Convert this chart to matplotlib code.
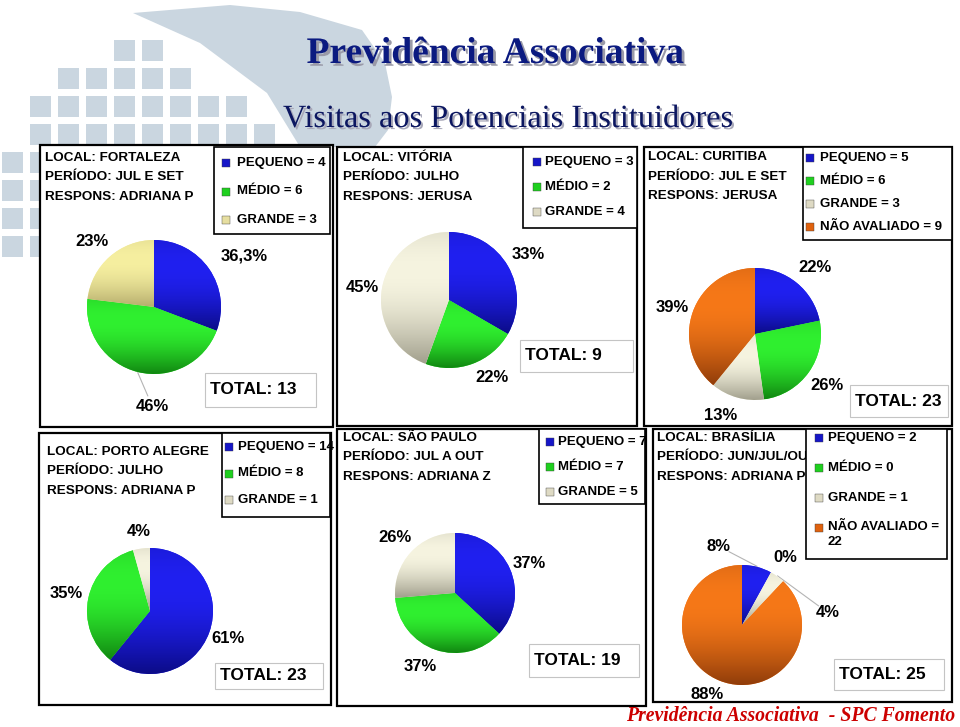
import numpy as np
import matplotlib
matplotlib.use("Agg")
import matplotlib.pyplot as plt
import matplotlib.patheffects as pe
from matplotlib.patches import Rectangle, Polygon
from matplotlib.colors import to_rgb

# ---------------- data ----------------
locais = ["FORTALEZA", "VITÓRIA", "CURITIBA", "PORTO ALEGRE", "SÃO PAULO", "BRASÍLIA"]
periodos = ["JUL E SET", "JULHO", "JUL E SET", "JULHO", "JUL A OUT", "JUN/JUL/OUT"]
responsaveis = ["ADRIANA P", "JERUSA", "JERUSA", "ADRIANA P", "ADRIANA Z", "ADRIANA P"]
pequeno = [4, 3, 5, 14, 7, 2]
medio = [6, 2, 6, 8, 7, 0]
grande = [3, 4, 3, 1, 5, 1]
nao_avaliado = [None, None, 9, None, None, 22]
pct_labels = [
    ["36,3%", "46%", "23%"],
    ["33%", "22%", "45%"],
    ["22%", "26%", "13%", "39%"],
    ["61%", "35%", "4%"],
    ["37%", "37%", "26%"],
    ["8%", "0%", "4%", "88%"],
]
cat_names = ["PEQUENO", "MÉDIO", "GRANDE", "NÃO AVALIADO"]

title = "Previdência Associativa"
subtitle = "Visitas aos Potenciais Instituidores"
footer = "Previdência Associativa  - SPC Fomento"

# ---------------- layout (pixels) ----------------
W, H = 960, 727
SANS = ["Liberation Sans", "DejaVu Sans"]
SERIF = ["Liberation Serif", "DejaVu Serif"]

panel_box = [(40, 145, 333, 427), (337, 147, 637, 426), (644, 147, 952, 426),
             (39, 433, 331, 705), (337, 429, 646, 706), (653, 429, 952, 702)]
info_xy = [(45, 158), (343, 158), (648, 157), (47, 452), (343, 438), (657, 438)]
legend_box = [(214, 147, 330, 234), (523, 147, 637, 228), (803, 147, 952, 240),
              (222, 433, 330, 517), (539, 429, 645, 504), (806, 429, 947, 559)]
legend_mark_x = [226, 537, 810, 229, 550, 819]
legend_text_x = [237, 545, 820, 238, 558, 828]
legend_y0 = [163, 162, 158, 447, 442, 438]
legend_dy = [28.5, 25, 23, 26.5, 25, 30]
legend_wrap = [False, False, False, False, False, True]
total_box = [(205, 373, 316, 407), (520, 340, 633, 372), (850, 385, 948, 417),
             (215, 663, 323, 689), (529, 644, 639, 677), (834, 659, 944, 690)]
pie_geom = [(154, 307, 67), (449, 300, 68), (755, 334, 66),
            (150, 611, 63), (455, 593, 60), (742, 625, 60)]
lab_dist = [[1.54, 1.49, 1.34], [1.34, 1.31, 1.29], [1.35, 1.34, 1.34, 1.32],
            [1.31, 1.35, 1.27], [1.33, 1.36, 1.36], [1.37, 1.34, 1.45, 1.30]]
lab_dang = [[-5, 13, 2], [0, 9, 1.5], [-3, 0, -7, 2],
            [0, 0, 0], [-2, -6, 0], [31, -3.5, -46, -5]]
lab_leader = [[False, True, False], [False] * 3, [False] * 4,
              [False] * 3, [False] * 3, [True, False, True, False]]

# colours (bright, dark) per category
blue = (to_rgb("#2020f0"), to_rgb("#06066a"))
green = (to_rgb("#30f030"), to_rgb("#086a08"))
yellow = (to_rgb("#f6efa0"), to_rgb("#a49c60"))
cream = (to_rgb("#f6f4e0"), to_rgb("#8a8876"))
orange = (to_rgb("#f67818"), to_rgb("#742c06"))
legend_col = {"blue": "#1616c8", "green": "#1fd01f", "yellow": "#e6dea0",
              "cream": "#dedac4", "orange": "#e0620e"}

# ---------------- figure ----------------
fig = plt.figure(figsize=(W / 100, H / 100), dpi=100)
bg = fig.add_axes([0, 0, 1, 1])
bg.set_xlim(0, W)
bg.set_ylim(H, 0)
bg.axis("off")

# watermark (globe logo, faint)
wm = "#cad6e0"
crescent = [(133, 13), (230, 5), (300, 12), (362, 30), (385, 63), (392, 97),
            (388, 130), (375, 147), (300, 147), (267, 93), (200, 43)]
bg.add_patch(Polygon(crescent, closed=True, facecolor=wm, edgecolor="none", zorder=0))
for i in range(12):
    for j in range(8):
        x0, y0 = 2 + 28 * i, 40 + 28 * j
        cxs, cys = x0 + 10, y0 + 10
        inside = (cxs - 195) ** 2 + (cys - 230) ** 2 < 200 ** 2
        left_of_swoosh = cxs < 133 + (cys - 13) * (167 / 134) - 12
        if inside and left_of_swoosh:
            bg.add_patch(Rectangle((x0, y0), 21, 21, facecolor=wm, edgecolor="none", zorder=0))

# titles with shadow
bg.text(495, 63, title, fontsize=27, fontweight="bold", family=SERIF, color="#0b1a80",
        ha="center", va="baseline", zorder=4,
        path_effects=[pe.SimplePatchShadow(offset=(2, -2), shadow_rgbFace="#9a9aa8", alpha=1.0),
                      pe.Normal()])
bg.text(508, 127, subtitle, fontsize=23.3, family=SERIF, color="#0b1660",
        ha="center", va="baseline", zorder=4,
        path_effects=[pe.SimplePatchShadow(offset=(1.5, -1.5), shadow_rgbFace="#a8a8b8", alpha=1.0),
                      pe.Normal()])
bg.text(955, 721, footer, fontsize=14.2, fontweight="bold", style="italic", family=SERIF,
        color="#cc0000", ha="right", va="baseline", zorder=4)


def rect(box, **kw):
    x0, y0, x1, y1 = box
    bg.add_patch(Rectangle((x0, y0), x1 - x0, y1 - y0, **kw))


for k in range(6):
    vals = [pequeno[k], medio[k], grande[k]]
    grads = [blue, green, yellow if k == 0 else cream]
    lcols = ["blue", "green", "yellow" if k == 0 else "cream"]
    names = cat_names[:3]
    if nao_avaliado[k] is not None:
        vals.append(nao_avaliado[k])
        grads.append(orange)
        lcols.append("orange")
        names = cat_names[:4]

    # panel frame
    rect(panel_box[k], facecolor="white", edgecolor="black", linewidth=1.6, zorder=1)

    # info text
    ix, iy = info_xy[k]
    for n, line in enumerate([f"LOCAL: {locais[k]}", f"PERÍODO: {periodos[k]}",
                              f"RESPONS: {responsaveis[k]}"]):
        bg.text(ix, iy + 19.5 * n, line, fontsize=9.7, fontweight="bold", family=SANS,
                ha="left", va="center", zorder=2)

    # legend
    rect(legend_box[k], facecolor="white", edgecolor="black", linewidth=1.2, zorder=5)
    for n, (nm, v, lc) in enumerate(zip(names, vals, lcols)):
        y = legend_y0[k] + legend_dy[k] * n
        mx = legend_mark_x[k]
        bg.add_patch(Rectangle((mx - 4, y - 4), 8, 8, facecolor=legend_col[lc],
                               edgecolor="#404040", linewidth=0.3, zorder=6))
        if legend_wrap[k] and nm == "NÃO AVALIADO":
            bg.text(legend_text_x[k], y - 7, f"{nm} =\n{v}", fontsize=9.5, fontweight="bold",
                    family=SANS, ha="left", va="top", linespacing=1.35, zorder=6)
        else:
            bg.text(legend_text_x[k], y, f"{nm} = {v}", fontsize=9.5, fontweight="bold",
                    family=SANS, ha="left", va="center", zorder=6)

    # total box
    tb = total_box[k]
    rect(tb, facecolor="white", edgecolor="#c4c4c4", linewidth=0.8, zorder=2)
    bg.text(tb[0] + 5, (tb[1] + tb[3]) / 2, f"TOTAL: {sum(vals)}", fontsize=12.5,
            fontweight="bold", family=SANS, ha="left", va="center", zorder=3)

    # pie
    cx, cy, r = pie_geom[k]
    ax = fig.add_axes([(cx - r) / W, 1 - (cy + r) / H, 2 * r / W, 2 * r / H])
    wedges, _ = ax.pie(vals, colors=[g[0] for g in grads], startangle=90, counterclock=False,
                       radius=1, wedgeprops=dict(edgecolor="none"))
    t = np.linspace(0, 1, 96)
    prof = 0.22 + 0.78 * np.clip(np.sin(np.pi * (0.3 + 0.7 * t)), 0, 1)
    for w, (bright, dark) in zip(wedges, grads):
        if abs(w.theta2 - w.theta1) < 1e-6:
            continue
        ext = w.get_path().get_extents()
        b, d = np.array(bright), np.array(dark)
        img = (d[None, :] + (b - d)[None, :] * prof[:, None])[:, None, :]
        im = ax.imshow(img, extent=[ext.x0, ext.x1, ext.y0, ext.y1], origin="upper",
                       aspect="auto", interpolation="bilinear", zorder=w.get_zorder() + 0.1)
        im.set_clip_path(w)
    ax.set_xlim(-1, 1)
    ax.set_ylim(-1, 1)
    ax.axis("off")

    # percentage labels
    tot = float(sum(vals))
    cum = 0.0
    for n, v in enumerate(vals):
        a1 = 90 - 360 * cum / tot
        a2 = 90 - 360 * (cum + v) / tot
        cum += v
        mid = np.deg2rad((a1 + a2) / 2)
        ang = mid + np.deg2rad(lab_dang[k][n])
        dd = lab_dist[k][n]
        lx, ly = cx + dd * r * np.cos(ang), cy - dd * r * np.sin(ang)
        bg.text(lx, ly, pct_labels[k][n], fontsize=12, fontweight="bold", family=SANS,
                ha="center", va="center", zorder=3)
        if lab_leader[k][n]:
            ex, ey = cx + 1.01 * r * np.cos(mid), cy - 1.01 * r * np.sin(mid)
            vx, vy = ex - lx, ey - ly
            L = np.hypot(vx, vy)
            sx, sy = lx + vx / L * 12, ly + vy / L * 12
            bg.plot([ex, sx], [ey, sy], color="#b4b4b4", linewidth=0.8, zorder=3)

fig.savefig("out.png", dpi=100)
